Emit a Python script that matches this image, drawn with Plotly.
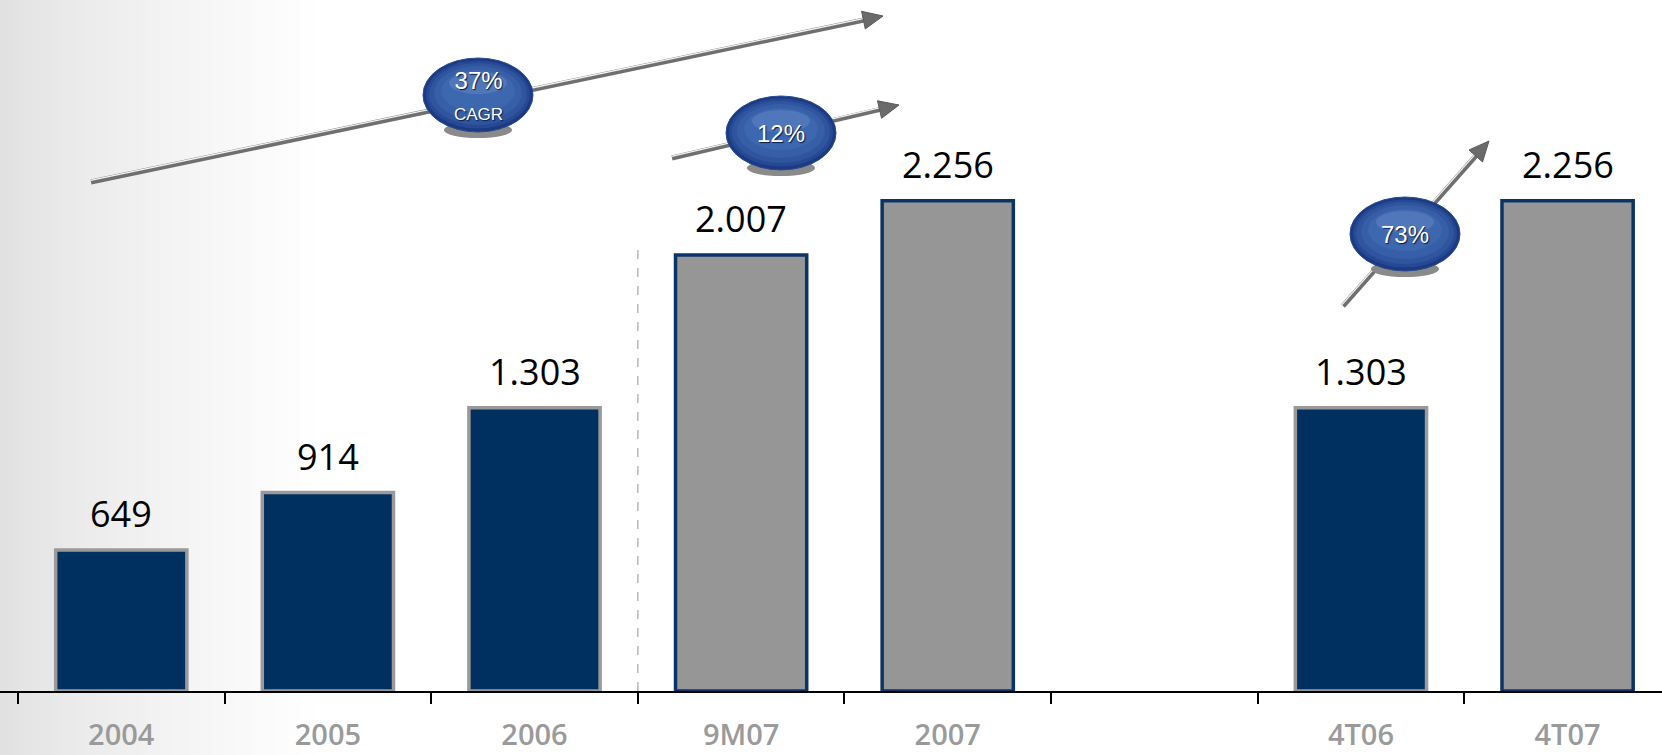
import plotly.graph_objects as go
import math

# ---------------- data ----------------
categories = ["2004", "2005", "2006", "9M07", "2007", " ", "4T06", "4T07"]
values = [649, 914, 1303, 2007, 2256, None, 1303, 2256]
value_labels = ["649", "914", "1.303", "2.007", "2.256", "", "1.303", "2.256"]
bar_kind = ["actual", "actual", "actual", "ytd", "ytd", "", "actual", "ytd"]
growth_labels = ["37%<br><span style='font-size:17px'>CAGR</span>", "12%", "73%"]

# ---------------- geometry helpers (page pixels -> paper) ----------------
W, H = 1662, 755
B = 64                 # bottom margin
PH = H - B             # plot height in px


def px(x):
    return x / W


def py(y):
    return (PH - y) / PH


NAVY = "#00305f"
GREY = "#969696"

fill_colors = [NAVY if k == "actual" else GREY for k in bar_kind]
line_colors = ["#9a9a9a" if k == "actual" else "#0b3466" for k in bar_kind]

fig = go.Figure()
fig.add_trace(go.Bar(
    x=categories, y=values,
    marker=dict(color=fill_colors, line=dict(color=line_colors, width=3.5)),
    width=0.635, hoverinfo="skip", showlegend=False,
))

shapes = []
annotations = []

# background gradient on the left
N = 50
G0 = 0
G1 = 320
for i in range(N):
    x0 = G0 + (G1 - G0) * i / N
    x1 = G0 + (G1 - G0) * (i + 1) / N
    t = (i + 0.5) / N
    c = int(round(224 + (255 - 224) * (t ** 0.75)))
    shapes.append(dict(type="rect", xref="paper", yref="paper",
                       x0=px(x0), x1=px(x1) + 0.0005, y0=-0.2, y1=1.0,
                       fillcolor=f"rgb({c},{c},{c})", line=dict(width=0),
                       layer="below"))

# dashed separator between 2006 and 9M07
shapes.append(dict(type="line", xref="x", yref="paper", x0=2.5, x1=2.5,
                   y0=0, y1=py(242), line=dict(color="#b8b8b8", width=1.5, dash="dash")))

# value labels (numeric category index so year-like names are not read as numbers)
for i, (v, lab) in enumerate(zip(values, value_labels)):
    if v is None:
        continue
    annotations.append(dict(xref="x", yref="y", x=i, y=v, text=lab, showarrow=False,
                            yanchor="middle", yshift=36,
                            font=dict(family="Open Sans", size=36, color="#000000")))


def arrow(x0, y0, x1, y1):
    dx, dy = x1 - x0, y1 - y0
    L = math.hypot(dx, dy)
    ux, uy = dx / L, dy / L
    nx, ny = -uy, ux
    hl, hw = 20, 9
    bx, by = x1 - ux * hl, y1 - uy * hl
    shapes.append(dict(type="line", xref="paper", yref="paper",
                       x0=px(x0), y0=py(y0), x1=px(bx + ux * 2), y1=py(by + uy * 2),
                       line=dict(color="#6f6f6f", width=5)))
    ox, oy = nx * 1.6, ny * 1.6
    if oy > 0:
        ox, oy = -ox, -oy
    shapes.append(dict(type="line", xref="paper", yref="paper",
                       x0=px(x0 + ox), y0=py(y0 + oy), x1=px(bx + ox), y1=py(by + oy),
                       line=dict(color="#f4f4f4", width=1.3)))
    p1 = (x1, y1)
    p2 = (bx + nx * hw, by + ny * hw)
    p3 = (bx - nx * hw, by - ny * hw)
    path = "M {} {} L {} {} L {} {} Z".format(px(p1[0]), py(p1[1]), px(p2[0]), py(p2[1]),
                                              px(p3[0]), py(p3[1]))
    shapes.append(dict(type="path", xref="paper", yref="paper", path=path,
                       fillcolor="#6a6a6a", line=dict(color="#5a5a5a", width=1)))


def ellipse(cx, cy, rx, ry, color, lw=0, lc=None):
    shapes.append(dict(type="circle", xref="paper", yref="paper",
                       x0=px(cx - rx), x1=px(cx + rx), y0=py(cy + ry), y1=py(cy - ry),
                       fillcolor=color, line=dict(width=lw, color=lc or color)))


def bubble(cx, cy, text, size):
    rx, ry = 55, 37
    # soft shadow below
    ellipse(cx, cy + ry - 2, rx * 0.62, 8, "#8a8a8a")
    ellipse(cx, cy, rx, ry, "#1b3a82", lw=1, lc="#2a4a90")
    ellipse(cx, cy - 0.5, rx - 3, ry - 3, "#274894")
    ellipse(cx, cy - 1, rx - 6, ry - 6, "#2f559e")
    ellipse(cx, cy - 2, rx - 11, ry - 10, "#365fa8")
    ellipse(cx, cy - 4, rx - 18, ry - 16, "#3d67af")
    ellipse(cx, cy - 12, rx - 26, ry - 26, "#4f77ba")
    annotations.append(dict(xref="paper", yref="paper", x=px(cx), y=py(cy), text=text,
                            showarrow=False, xanchor="center", yanchor="middle",
                            font=dict(family="Liberation Sans", size=size, color="white",
                                      shadow="1px 1px 1px #0a1c4a")))


arrow(91, 182, 883, 16)
arrow(672, 158, 899, 105)
arrow(1343, 306, 1489, 141)

bubble(478, 95, growth_labels[0], 24)
bubble(781, 133, growth_labels[1], 24)
bubble(1405, 234, growth_labels[2], 24)

fig.update_layout(
    width=W, height=H,
    margin=dict(l=0, r=0, t=0, b=B, autoexpand=False),
    paper_bgcolor="white", plot_bgcolor="rgba(0,0,0,0)",
    shapes=shapes, annotations=annotations,
    bargap=0.3,
    xaxis=dict(type="category", range=[-0.587, 7.457], showline=True, linecolor="black",
               linewidth=1.5, ticks="outside", tickson="boundaries", ticklen=11,
               tickcolor="black", tickwidth=1.5, showgrid=False, zeroline=False,
               automargin=False,
               tickfont=dict(family="Open Sans", size=29, color="#9a9a9a", weight=600),
               ticklabelstandoff=17),
    yaxis=dict(range=[0, PH / 0.2173], visible=False, showgrid=False, zeroline=False,
               automargin=False),
)

fig.write_html("out.html")
